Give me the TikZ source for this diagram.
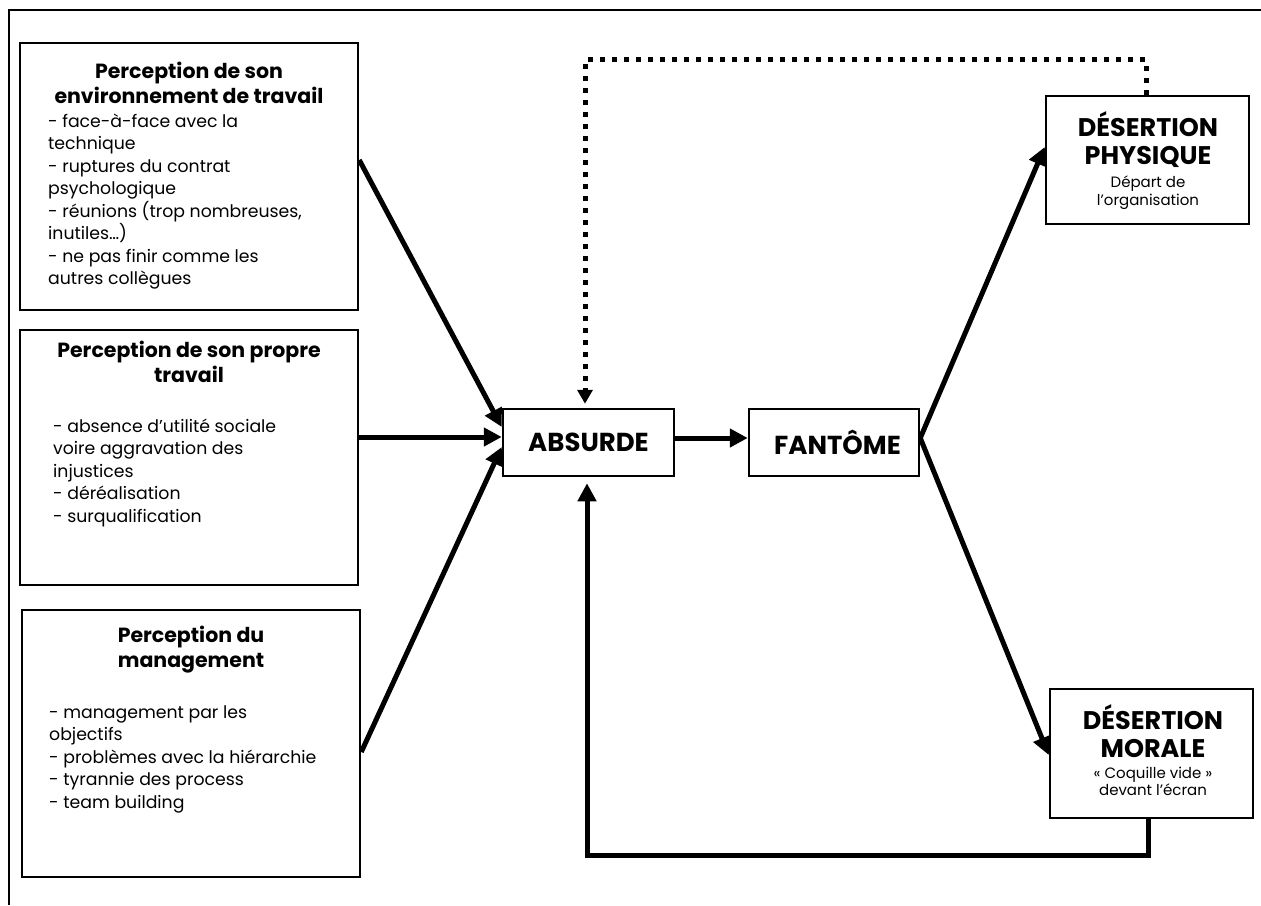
\documentclass[tikz,border=0pt]{standalone}
\usepackage{fontspec}
\setmainfont{Poppins}
\usetikzlibrary{arrows.meta}
\newcommand\titlefnt{\bfseries\fontsize{20.5}{25.5}\selectfont}
\newcommand\bodyfnt{\fontsize{17.3}{22.5}\selectfont}
\newcommand\bigfnt{\bfseries\fontsize{25.5}{28}\selectfont}
\newcommand\midfnt{\bfseries\fontsize{26}{28}\selectfont}
\newcommand\smallfnt{\fontsize{15}{18}\selectfont}
\newcommand\stt[1]{\rule{0pt}{#1pt}}
\begin{document}
\begin{tikzpicture}[x=1pt,y=-1pt,
  box/.style={draw, line width=2.5pt, inner sep=0pt, rectangle},
  txt/.style={inner sep=0pt, text=black},
  arr/.style={line width=5pt, -{Triangle[length=18pt,width=18pt]}},
  dotarr/.style={line width=5pt, dash pattern=on 5pt off 7pt, -{Triangle[length=14pt,width=15pt]}},
  loopline/.style={line width=5pt, -{Triangle[length=18pt,width=18pt]}}]
\useasboundingbox (0,0) rectangle (1261,905);
% outer frame
\draw[line width=2.5pt] (9,905) -- (9,10) -- (1261,10);

% left boxes
\node[box, minimum width=338pt, minimum height=267pt] (b1) at (189,176.5) {};
\node[box, minimum width=338pt, minimum height=255pt] (b2) at (189,457.5) {};
\node[box, minimum width=338pt, minimum height=267pt] (b3) at (191,743.5) {};

\node[txt, anchor=north, align=center, font=\titlefnt] (t1) at (189,58) {\stt{20}Perception de son\\environnement de travail};
\node[txt, anchor=north west, align=left, font=\bodyfnt] (l1) at (48,107) {\stt{20}- face-à-face avec la\\technique\\- ruptures du contrat\\psychologique\\- réunions (trop nombreuses,\\inutiles…)\\- ne pas finir comme les\\autres collègues};

\node[txt, anchor=north, align=center, font=\titlefnt] (t2) at (189,337) {\stt{20}Perception de son propre\\travail};
\node[txt, anchor=north west, align=left, font=\bodyfnt] (l2) at (53,412) {\stt{20}- absence d’utilité sociale\\voire aggravation des\\injustices\\- déréalisation\\- surqualification};

\node[txt, anchor=north, align=center, font=\titlefnt] (t3) at (191,622) {\stt{20}Perception du\\management};
\node[txt, anchor=north west, align=left, font=\bodyfnt] (l3) at (49,698) {\stt{20}- management par les\\objectifs\\- problèmes avec la hiérarchie\\- tyrannie des process\\- team building};

% centre boxes
\node[box, minimum width=171pt, minimum height=67pt, font=\midfnt] (abs) at (588.5,442.5) {ABSURDE};
\node[box, minimum width=170pt, minimum height=67pt, font=\midfnt] (fan) at (834,442.5) {\hspace*{7pt}FANTÔME};

% right boxes
\node[box, minimum width=203pt, minimum height=128pt] (dp) at (1147.5,160) {};
\node[txt, anchor=north, align=center, font=\bigfnt] (dpt) at (1148,111) {\stt{24}DÉSERTION\\PHYSIQUE};
\node[txt, anchor=north, align=center, font=\smallfnt] (dps) at (1148,171) {\stt{16}Départ de\\l'organisation};

\node[box, minimum width=203pt, minimum height=129pt] (dm) at (1151.5,753.5) {};
\node[txt, anchor=north, align=center, font=\bigfnt] (dmt) at (1153,704) {\stt{24}DÉSERTION\\MORALE};
\node[txt, anchor=north, align=center, font=\fontsize{15}{17}\selectfont] (dms) at (1153,762) {\stt{16}« Coquille vide »\\devant l’écran};

% connectors
\draw[arr] ([yshift=16.5pt]b1.east) -- ([yshift=15.5pt]abs.west);
\draw[arr] ([yshift=20.5pt]b2.east) -- ([yshift=5.5pt]abs.west);
\draw[arr] ([yshift=-8.5pt]b3.east) -- ([yshift=-4.5pt]abs.west);
\draw[arr] ([yshift=4.5pt]abs.east) -- ([yshift=4.5pt]fan.west);
\draw[arr] ([yshift=4.5pt]fan.east) -- ([yshift=13pt]dp.west);
\draw[arr] ([yshift=4.5pt]fan.east) -- ([yshift=-1.5pt]dm.west);
\draw[dotarr] ([xshift=-1.5pt]dp.north) -- ++(0,-35) -| ([xshift=-3.5pt,yshift=4pt]abs.north);
\draw[loopline] ([xshift=-3.5pt]dm.south) -- ++(0,36) -| ([xshift=-1.5pt,yshift=-6pt]abs.south);
\end{tikzpicture}
\end{document}
